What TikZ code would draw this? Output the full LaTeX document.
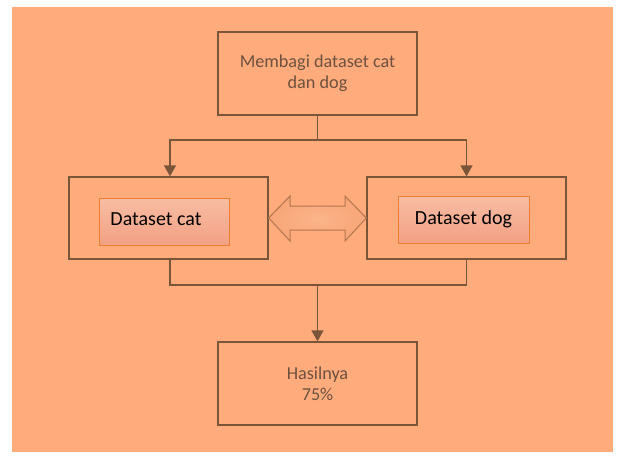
\documentclass[tikz,border=0pt]{standalone}
\usepackage{fontspec}
\setmainfont{Carlito}
\usetikzlibrary{arrows.meta}
\definecolor{bgc}{HTML}{FFAB7B}
\definecolor{linec}{HTML}{7B5539}
\definecolor{txtc}{HTML}{6E5040}
\definecolor{innertop}{HTML}{F8BDA4}
\definecolor{innerbot}{HTML}{F2A083}
\definecolor{innerline}{HTML}{ED7D31}
\definecolor{dblline}{HTML}{B47650}
\definecolor{dblfill}{HTML}{F7A677}
\definecolor{dblin}{HTML}{FBB48A}
\tikzset{
  outerbox/.style={draw=linec, line width=1.3pt, minimum width=199pt, inner sep=0pt, align=center, text=txtc, font=\fontsize{18.2}{21}\selectfont},
  innerbox/.style={draw=innerline, line width=0.9pt, top color=innertop, bottom color=innerbot, inner sep=0pt, minimum height=47pt, font=\fontsize{20}{23}\selectfont, text=black},
  conn/.style={draw=linec, line width=1.3pt},
  arr/.style={conn, -{Triangle[length=11pt,width=12pt]}},
}
\begin{document}
\begin{tikzpicture}[x=1pt,y=-1pt]
\useasboundingbox (0,0) rectangle (631,461);
\fill[white] (0,0) rectangle (631,461);
\fill[bgc] (12,7) rectangle (613,452);
\node[outerbox, minimum height=83pt] (top) at (317.5,73.5) {Membagi dataset cat\\dan dog};
\node[outerbox, minimum height=82pt] (left) at (168.5,218) {};
\node[outerbox, minimum height=82pt] (right) at (466.5,218) {};
\node[outerbox, minimum height=83pt] (bot) at (317.5,383.5) {Hasilnya\\75\%};
\node[innerbox, minimum width=130pt] (lin) at (164,221.5) {\hspace*{-16pt}\raisebox{4pt}{Dataset cat}};
\node[innerbox, minimum width=131pt] (rin) at (463.5,219.5) {\raisebox{3pt}{Dataset dog}};
\coordinate (split) at (317.5,140);
\coordinate (merge) at (317.5,285);
\draw[conn] (top.south) -- (split);
\draw[arr] (split) -| ([xshift=1.5pt]left.north);
\draw[arr] (split) -| (right.north);
\draw[conn] ([xshift=1.5pt]left.south) |- (merge) -| (right.south);
\draw[arr] (merge) -- (bot.north);
\draw[draw=dblline, line width=1pt, inner color=dblin, outer color=dblfill]
  (left.east) -- (290,196) -- (290,206) -- (345,206) -- (345,196) -- (right.west)
  -- (345,241) -- (345,230) -- (290,230) -- (290,241) -- cycle;
\end{tikzpicture}
\end{document}
